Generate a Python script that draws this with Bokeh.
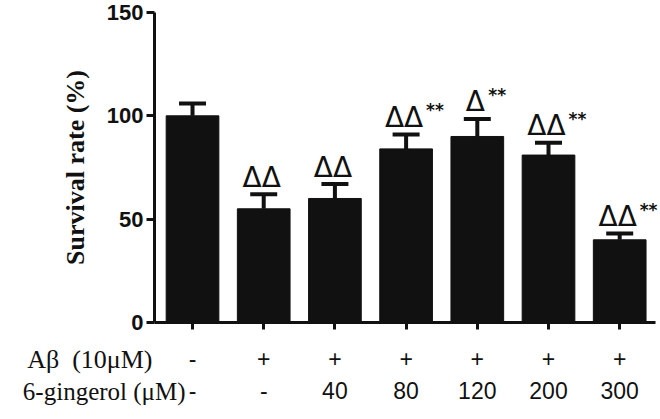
from bokeh.plotting import figure
from bokeh.models import Range1d, LinearAxis, FixedTicker, Label, Whisker, TeeHead, ColumnDataSource
from bokeh.core.properties import value
from bokeh.embed import file_html
from bokeh.resources import INLINE

# ---- data ----
positions = [0, 1, 2, 3, 4, 5, 6]
survival = [100, 55, 60, 84, 90, 81, 40]
sem = [6, 7, 7, 7, 8.5, 6, 3]
abeta_labels = ["-", "+", "+", "+", "+", "+", "+"]
gingerol_labels = ["-", "-", "40", "80", "120", "200", "300"]
delta_marks = ["", "ΔΔ", "ΔΔ", "ΔΔ", "Δ", "ΔΔ", "ΔΔ"]
star_marks = ["", "", "", "**", "**", "**", "**"]
y_ticks = [0, 50, 100, 150]

BLACK = "#111111"

upper = [v + e for v, e in zip(survival, sem)]
star_dx = [len(d) * 9 + 2 for d in delta_marks]
src = ColumnDataSource(dict(x=positions, value=survival, upper=upper,
                            delta=delta_marks, star=star_marks, star_dx=star_dx))

X0, X1 = -0.534, 6.5     # extent of the drawn x axis
Y0, Y1 = 0, 150          # extent of the drawn y axis

p = figure(width=658, height=410, x_range=Range1d(-2.697, 6.545), y_range=Range1d(-42.6, 155.8),
           output_backend="svg", toolbar_location=None, min_border=0,
           min_border_left=0, min_border_right=0, min_border_top=0, min_border_bottom=0)
p.outline_line_color = None
p.grid.visible = False
p.background_fill_color = "white"
p.border_fill_color = "white"

# y axis
yax = p.yaxis[0]
yax.fixed_location = X0
yax.bounds = (Y0, Y1)
yax.ticker = FixedTicker(ticks=y_ticks)
yax.axis_line_width = 3
yax.axis_line_color = BLACK
yax.major_tick_line_width = 3
yax.major_tick_line_color = BLACK
yax.major_tick_out = 8
yax.major_tick_in = 0
yax.minor_tick_line_color = None
yax.major_label_text_font = "Liberation Sans"
yax.major_label_text_font_style = "bold"
yax.major_label_text_font_size = "22px"
yax.major_label_text_color = BLACK
yax.major_label_standoff = 3
yax.axis_label = "Survival rate (%)"
yax.axis_label_text_font = "Liberation Serif"
yax.axis_label_text_font_style = "bold"
yax.axis_label_text_font_size = "26px"
yax.axis_label_text_color = BLACK
yax.axis_label_standoff = 14

# x axis (Abeta row)
xax = p.xaxis[0]
xax.fixed_location = 0
xax.bounds = (X0, X1)
xax.ticker = FixedTicker(ticks=positions)
xax.major_label_overrides = {i: abeta_labels[i] for i in positions}
xax.axis_line_width = 3
xax.axis_line_color = BLACK
xax.major_tick_line_width = 3
xax.major_tick_line_color = BLACK
xax.major_tick_out = 7
xax.major_tick_in = 0
xax.minor_tick_line_color = None
xax.major_label_text_font = "Liberation Sans"
xax.major_label_text_font_size = "23px"
xax.major_label_text_color = BLACK
xax.major_label_standoff = 21

# second row (6-gingerol)
xax2 = LinearAxis(ticker=FixedTicker(ticks=positions), fixed_location=0, bounds=(X0, X1),
                  major_label_overrides={i: gingerol_labels[i] for i in positions})
xax2.axis_line_color = None
xax2.major_tick_line_color = None
xax2.major_tick_out = 0
xax2.major_tick_in = 0
xax2.minor_tick_line_color = None
xax2.major_label_text_font = "Liberation Sans"
xax2.major_label_text_font_size = "23px"
xax2.major_label_text_color = BLACK
xax2.major_label_standoff = 60
p.add_layout(xax2, "below")

# bars
p.vbar(x="x", top="value", width=0.74, source=src, fill_color=BLACK, line_color=BLACK)

# error bars (upper only)
p.add_layout(Whisker(base="x", lower="value", upper="upper", source=src,
                     line_width=4, line_color=BLACK, lower_head=None,
                     upper_head=TeeHead(size=27, line_width=4, line_color=BLACK)))

# significance marks
p.text(x="x", y="upper", text="delta", source=src, text_align="center",
       text_baseline="alphabetic", x_offset=-2, y_offset=-17,
       text_font=value("DejaVu Sans"), text_font_size="28px", text_color=BLACK)
p.text(x="x", y="upper", text="star", source=src, text_align="left",
       text_baseline="alphabetic", x_offset="star_dx", y_offset=-24,
       text_font=value("DejaVu Sans"), text_font_style="bold",
       text_font_size="17px", text_color=BLACK)

# row titles
p.add_layout(Label(x=-0.562, y=-17.9, text="Aβ\u00a0 (10μM)", text_align="right",
                   text_baseline="middle", text_font="Liberation Serif",
                   text_font_size="26px", text_color=BLACK))
p.add_layout(Label(x=-0.098, y=-33.4, text="6-gingerol (μM)", text_align="right",
                   text_baseline="middle", text_font="Liberation Serif",
                   text_font_size="25px", text_color=BLACK))

open("out.html", "w").write(file_html(p, INLINE))
